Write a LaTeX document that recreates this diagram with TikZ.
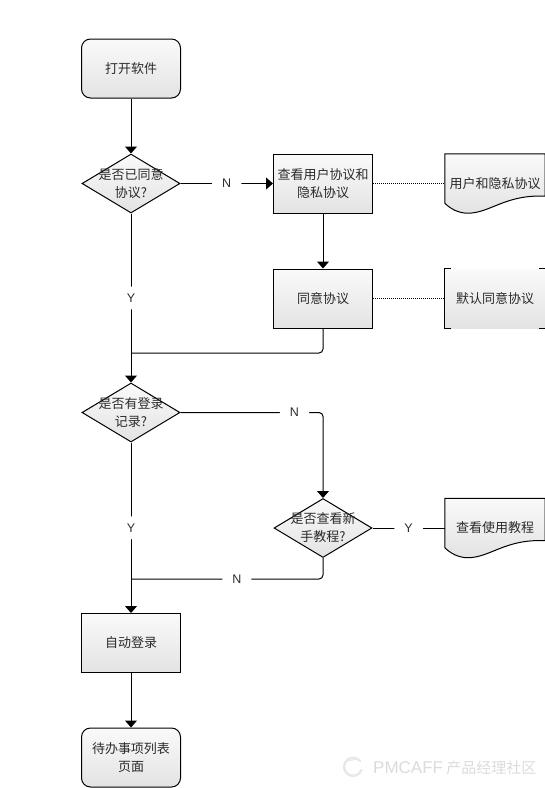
\documentclass[tikz,border=0pt]{standalone}
\usepackage{fontspec}
\setmainfont{Noto Sans CJK SC}
\newfontfamily\latinfont{Liberation Sans}
\usetikzlibrary{arrows.meta,shapes.geometric}
\definecolor{inkgray}{HTML}{2B2B2B}
\tikzset{
  shaded box/.style={top color=gray!4, bottom color=gray!22, draw=black, line width=1pt},
  txt/.style={text=inkgray, align=center, inner sep=0pt, font=\fontsize{13}{18}\selectfont},
  process/.style={shaded box, rectangle, minimum width=99pt, minimum height=59pt, txt},
  terminal/.style={process, rounded corners=9pt},
  decision/.style={shaded box, diamond, aspect=1.66, minimum width=98pt, minimum height=59pt, inner sep=0pt},
  notebox/.style={rectangle, top color=gray!4, bottom color=gray!22, minimum width=100pt, minimum height=59pt, txt},
  anchorbox/.style={rectangle, minimum width=100pt, minimum height=59pt, inner sep=0pt},
  flow/.style={line width=1pt, rounded corners=4pt},
  arrow/.style={flow, -{Triangle[width=12pt,length=7pt]}},
  link/.style={line width=1pt, densely dotted},
  lbl/.style={fill=white, text=inkgray, inner xsep=10pt, inner ysep=7pt, font=\latinfont\fontsize{12.5}{14}\selectfont},
  mark text/.style={text=gray!28, inner sep=0pt, font=\fontsize{15}{18}\selectfont}
}
\newcommand{\docnode}[3]{%
  \node[anchorbox] (#1) at (#2) {};
  \shade[shaded box] (#1.north west) -- (#1.north east)
    -- ([yshift=17pt]#1.south east)
    .. controls ([xshift=-40pt,yshift=19pt]#1.south east) and ([xshift=-55pt]#1.south east) .. ([xshift=23pt]#1.south west)
    .. controls ([xshift=13pt]#1.south west) and ([xshift=5pt,yshift=5pt]#1.south west) .. ([yshift=10pt]#1.south west)
    -- cycle;
  \node[txt] at (#1) {#3};
}
\begin{document}
\begin{tikzpicture}[x=1pt, y=-1pt]
    \useasboundingbox (0,0) rectangle (545,788);
    \node[terminal] (start) at (131,68.5) {打开软件};
    \node[decision] (agreed) at (131,183.5) {};
    \node[txt] at (agreed) {是否已同意\\协议?};
    \node[process] (view) at (323,183.5) {查看用户协议和\\隐私协议};
    \docnode{privacy}{495,183.5}{用户和隐私协议}
    \node[process] (accept) at (323,298.5) {同意协议};
    \node[notebox] (default) at (495,298.5) {默认同意协议};
    \draw[line width=1pt] ([xshift=6pt]default.north west) -- (default.north west) -- (default.south west) -- ([xshift=6pt]default.south west);
    \draw[line width=1pt] ([xshift=-6pt]default.north east) -- (default.north east) -- (default.south east) -- ([xshift=-6pt]default.south east);
    \node[decision] (record) at (131,412.5) {};
    \node[txt] at (record) {是否有登录\\记录?};
    \node[decision] (guide) at (323,528) {};
    \node[txt] at (guide) {是否查看新\\手教程?};
    \docnode{tutorial}{495,528}{查看使用教程}
    \node[process] (login) at (131,643) {自动登录};
    \node[terminal] (todo) at (131,757.5) {待办事项列表\\页面};
    \coordinate (merge) at (agreed.south |- 0,353);
    \coordinate (rejoin) at (record.south |- 0,579);
    \draw[arrow] (start) -- (agreed);
    \draw[arrow] (agreed) -- node[lbl] {N} (view);
    \draw[link] (view) -- (privacy);
    \draw[arrow] (view) -- (accept);
    \draw[link] (accept) -- (default);
    \draw[arrow] (agreed) -- node[lbl] {Y} (record);
    \draw[flow] (accept.south) |- (merge);
    \draw[arrow] (record.east) -| node[lbl, pos=0.4] {N} (guide.north);
    \draw[arrow] (record) -- node[lbl] {Y} (login);
    \draw[flow] (guide) -- node[lbl] {Y} (tutorial);
    \draw[flow] (guide.south) |- node[lbl, pos=0.724] {N} (rejoin);
    \draw[arrow] (login) -- (todo);
    \node[mark text, anchor=west] (mark) at (373,768) {{\latinfont\fontsize{17}{18}\selectfont PMCAFF} 产品经理社区};
    \draw[gray!18, line width=2.5pt, line cap=round] (360,761) arc (-40:-340:9);
    \draw[gray!18, line width=1pt, line cap=round] (348,761) -- (357,759);
  \end{tikzpicture}
\end{document}
